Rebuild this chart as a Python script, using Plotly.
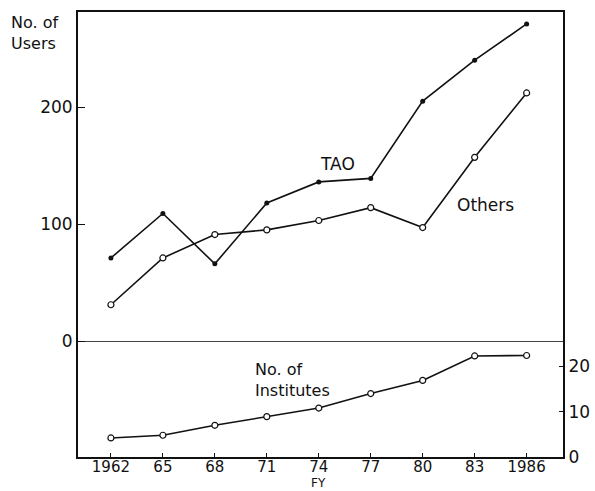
import plotly.graph_objects as go

# Fiscal years and series
years = [1962, 1965, 1968, 1971, 1974, 1977, 1980, 1983, 1986]
year_labels = ["1962", "65", "68", "71", "74", "77", "80", "83", "1986"]
tao_users = [71, 109, 66, 118, 136, 139, 205, 240, 271]
other_users = [31, 71, 91, 95, 103, 114, 97, 157, 212]
institutes = [4.2, 4.8, 7.0, 8.9, 10.8, 14.0, 16.9, 22.3, 22.4]

user_ticks = [0, 100, 200]
inst_ticks = [0, 10, 20]

FONT = "DejaVu Sans"
INK = "#111111"
FS = 17

# plot area in pixels: x 78..563, y 12..457
L, R, T, B = 78, 563, 12, 457
W, H = 595, 491


def px(xp):
    return (xp - L) / (R - L)


def py(yp):
    return (B - yp) / (B - T)


fig = go.Figure()

fig.add_trace(go.Scatter(
    x=years, y=tao_users, mode="lines+markers", name="TAO",
    line=dict(color=INK, width=1.6),
    marker=dict(symbol="circle", size=5, color=INK),
    yaxis="y",
))
fig.add_trace(go.Scatter(
    x=years, y=other_users, mode="lines+markers", name="Others",
    line=dict(color=INK, width=1.6),
    marker=dict(symbol="circle", size=6, color="white",
                line=dict(color=INK, width=1.2)),
    yaxis="y",
))
fig.add_trace(go.Scatter(
    x=years, y=institutes, mode="lines+markers", name="Institutes",
    line=dict(color=INK, width=1.6),
    marker=dict(symbol="circle", size=6, color="white",
                line=dict(color=INK, width=1.2)),
    yaxis="y2",
))

tickfont = dict(family=FONT, size=FS, color=INK)

fig.update_layout(
    width=W, height=H,
    margin=dict(l=L, r=W - R, t=T, b=H - B, autoexpand=False),
    paper_bgcolor="white", plot_bgcolor="white",
    showlegend=False,
    font=dict(family=FONT, size=FS, color=INK),
    xaxis=dict(
        range=[1960.1, 1988.1],
        tickvals=years, ticktext=year_labels,
        ticks="inside", ticklen=4, tickcolor=INK, tickwidth=1.2,
        showline=True, linecolor=INK, linewidth=2, mirror=True,
        showgrid=False, zeroline=False, automargin=False,
        ticklabelstandoff=-5,
        tickfont=dict(family=FONT, size=15, color=INK),
    ),
    yaxis=dict(
        range=[-99.1, 281.2],
        tickvals=user_ticks, ticktext=[str(t) for t in user_ticks],
        ticks="inside", ticklen=7, tickcolor=INK, tickwidth=1.2,
        showline=True, linecolor=INK, linewidth=2,
        showgrid=False, automargin=False,
        zeroline=True, zerolinecolor="#444444", zerolinewidth=1,
        tickfont=tickfont,
    ),
    yaxis2=dict(
        overlaying="y", side="right",
        range=[0, 98.2],
        tickvals=inst_ticks, ticktext=[str(t) for t in inst_ticks],
        ticks="inside", ticklen=4, tickcolor=INK, tickwidth=1.2,
        showline=True, linecolor=INK, linewidth=2,
        showgrid=False, zeroline=False, automargin=False,
        tickfont=tickfont,
    ),
)

txt = dict(family=FONT, size=16, color=INK)


def label(text, xp, yp, anchor="left"):
    fig.add_annotation(text=text, xref="paper", yref="paper",
                       x=px(xp), y=py(yp), xanchor=anchor, yanchor="middle",
                       align="left", showarrow=False, font=txt, borderpad=0)


# Axis captions
label("No. of<br>Users", 10, 33)
label("No. of<br>Institutes", 254, 380)

# Series labels placed in data coordinates
fig.add_annotation(text="TAO", x=1975.1, y=151, xref="x", yref="y",
                   showarrow=False, font=dict(family=FONT, size=FS, color=INK))
fig.add_annotation(text="Others", x=1983.6, y=116, xref="x", yref="y",
                   showarrow=False, font=dict(family=FONT, size=FS, color=INK))

# Horizontal-axis title, tucked under the tick labels
fig.add_annotation(text="FY", xref="paper", yref="paper",
                   x=px(318), y=py(491), xanchor="center", yanchor="bottom",
                   showarrow=False, borderpad=0,
                   font=dict(family=FONT, size=12, color=INK))

fig.write_html("out.html")
